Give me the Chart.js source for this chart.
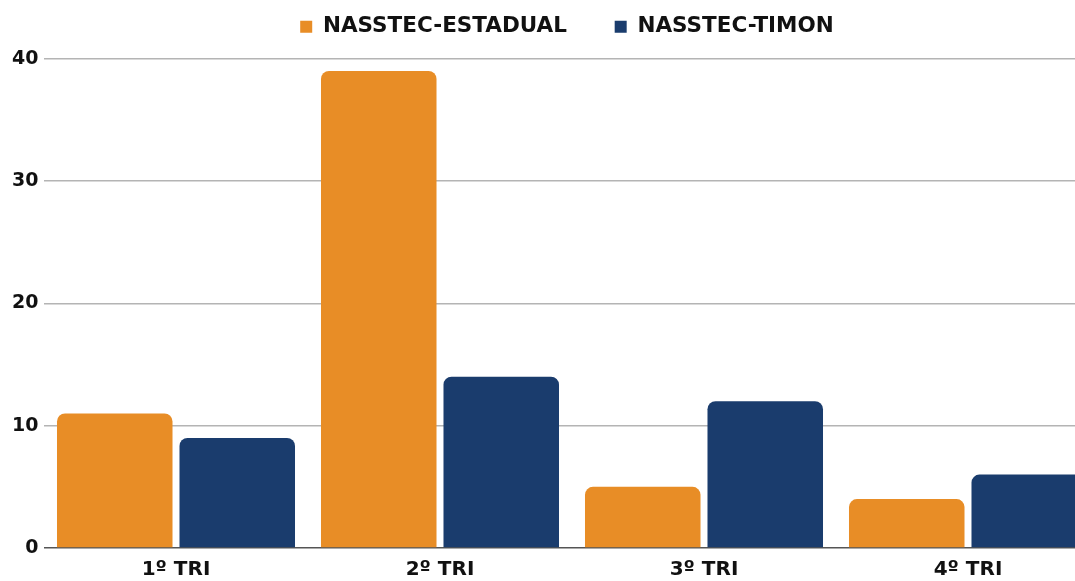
<!DOCTYPE html>
<html>
<head>
<meta charset="utf-8">
<script src="https://cdn.jsdelivr.net/npm/chart.js@4"></script>
<style>
  html, body { margin: 0; padding: 0; background: #fff; overflow: hidden; }
  #wrap { width: 1100px; height: 581px; }
</style>
</head>
<body>
<div id="wrap"><canvas id="chart-canvas"></canvas></div>
<script>
let labels = ["1º TRI", "2º TRI", "3º TRI", "4º TRI"];
let estadual = [11, 39, 5, 4];
let timon = [9, 14, 12, 6];
let y_ticks = [0, 10, 20, 30, 40];

let ORANGE = "#e88d26";
let BLUE = "#1a3c6d";
let FONT = "'DejaVu Sans', sans-serif";

function createChart() {
  new Chart(document.getElementById("chart-canvas"), {
    type: "bar",
    data: {
      labels: labels,
      datasets: [
        {
          label: "NASSTEC-ESTADUAL",
          data: estadual,
          backgroundColor: ORANGE,
          borderRadius: 8,
          borderSkipped: "start",
        },
        {
          label: "NASSTEC-TIMON",
          data: timon,
          backgroundColor: BLUE,
          borderRadius: 8,
          borderSkipped: "start",
        },
      ],
    },
    options: {
      responsive: true,
      maintainAspectRatio: false,
      animation: false,
      layout: { padding: { left: 34, right: 0, top: -5, bottom: 0 } },
      datasets: {
        bar: { categoryPercentage: 0.928, barPercentage: 0.943 },
      },
      plugins: {
        legend: {
          display: true,
          position: "top",
          labels: {
            color: "#111",
            font: { family: FONT, size: 21.5, weight: "bold" },
            boxWidth: 12,
            boxHeight: 12,
            padding: 21,
            generateLabels: (chart) => {
              let items = Chart.defaults.plugins.legend.labels.generateLabels(chart);
              // extra gap between the two legend entries
              items[0].text = items[0].text + "   \u2009";
              return items;
            },
          },
        },
        // empty title, only used as spacing under the legend
        title: {
          display: true,
          text: "",
          weight: 500,
          font: { size: 1 },
          padding: { top: 0, bottom: 10 },
        },
        tooltip: { enabled: false },
      },
      scales: {
        y: {
          min: 0,
          max: 40,
          afterBuildTicks: (axis) => {
            axis.ticks = y_ticks.map((v) => ({ value: v }));
          },
          afterFit: (axis) => {
            axis.width = 10;
          },
          border: { display: false },
          grid: {
            drawTicks: false,
            color: (ctx) => (ctx.tick && ctx.tick.value == 0 ? "#555" : "#b4b4b4"),
            lineWidth: 1.5,
          },
          ticks: {
            color: "#111",
            mirror: true,
            crossAlign: "far",
            padding: -32,
            font: { family: FONT, size: 19, weight: "bold" },
          },
        },
        x: {
          border: { display: false },
          grid: { display: false },
          afterFit: (axis) => {
            axis.height = 33;
          },
          ticks: {
            color: "#111",
            padding: 2,
            font: { family: FONT, size: 20, weight: "bold" },
          },
        },
      },
    },
  });
}

createChart();
</script>
</body>
</html>
